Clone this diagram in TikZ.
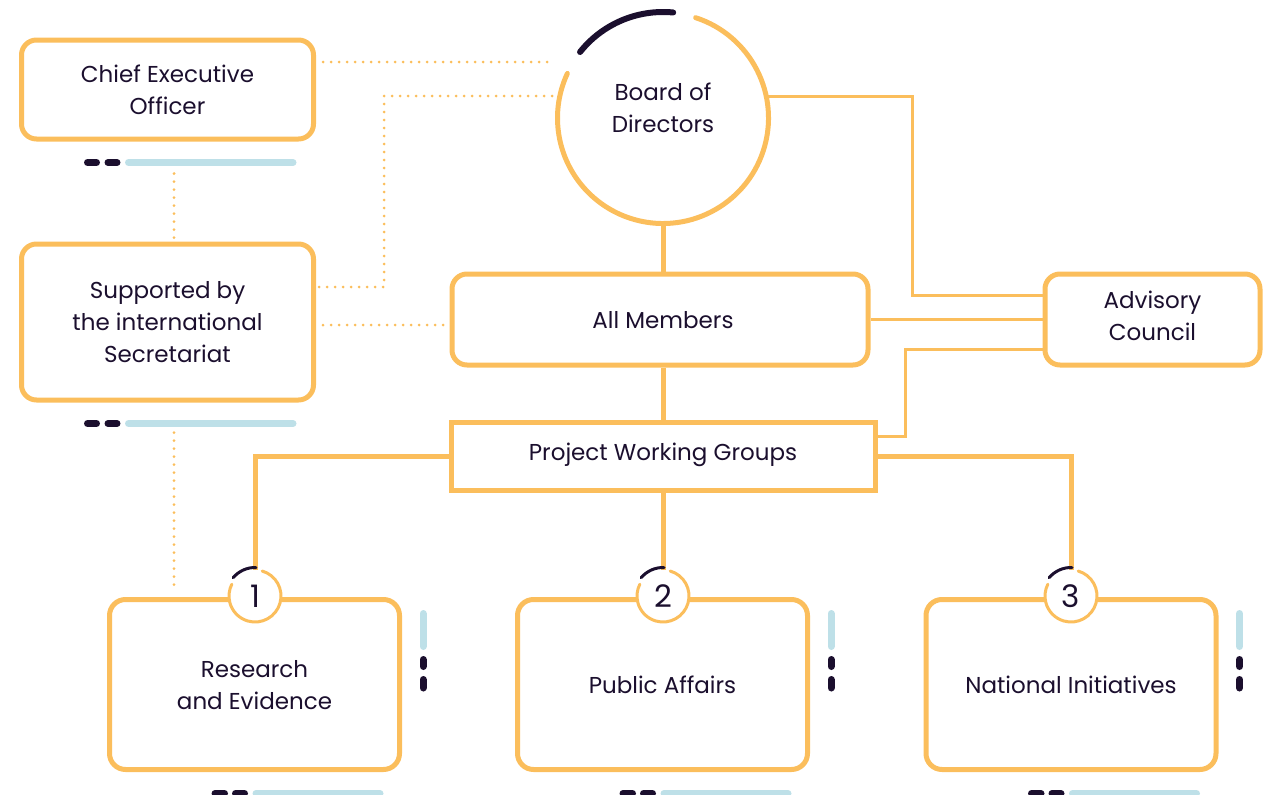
\documentclass[tikz,border=0pt]{standalone}
\usepackage{fontspec}
\setmainfont{Poppins}
\usetikzlibrary{calc}
\definecolor{org}{HTML}{FBBE5C}
\definecolor{ink}{HTML}{1B0F2E}
\definecolor{sky}{HTML}{BEE0E8}
\begin{document}
\begin{tikzpicture}[x=1pt,y=-1pt,
  box/.style={draw=org, line width=5pt, rounded corners=15pt, fill=white, align=center, text=ink, font=\fontsize{23}{32}\selectfont, inner sep=0pt, text depth=0pt},
  bigbox/.style={box, rounded corners=16pt, minimum width=290pt, minimum height=170pt},
  label/.style={align=center, text=ink, font=\fontsize{23}{32}\selectfont, inner sep=0pt, text depth=0pt},
  link/.style={draw=org, line width=5pt},
  thinlink/.style={draw=org, line width=3pt},
  dots/.style={draw=org, line width=3pt, line cap=round, dash pattern=on 0pt off 8pt},
  inkbar/.style={draw=ink, line width=7pt, line cap=round},
  skybar/.style={draw=sky, line width=7pt, line cap=round},
  numc/.style={circle, fill=white, minimum size=52pt, inner sep=0pt, text=ink, font=\fontsize{31}{31}\selectfont},
]
\useasboundingbox (0,0) rectangle (1270,795);

% boxes
\node[box, text depth=-4pt, minimum width=292pt, minimum height=99pt] (ceo) at (167.5,89.5) {Chief Executive\\Officer};
\node[box, text depth=-4pt, minimum width=292pt, minimum height=156pt] (sec) at (167.5,322) {Supported by\\the international\\Secretariat};
\node[circle, minimum size=211pt, inner sep=0pt] (board) at (663,118) {};
\node[label] (boardtxt) at ($(board.center)+(0,-10)$) {Board of\\Directors};
\node[box, text depth=-8pt, minimum width=416pt, minimum height=91pt] (all) at (660,319.5) {\hspace*{6pt}All Members};
\node[box, text depth=8pt, minimum width=215pt, minimum height=91pt] (adv) at (1152.5,319.5) {Advisory\\Council};
\node[box, text depth=8pt, sharp corners, minimum width=424pt, minimum height=68pt] (pwg) at (663,456) {Project Working Groups};
\node[bigbox] (res) at (254.5,684.5) {Research\\and Evidence};
\node[bigbox] (pub) at (662.5,684.5) {Public Affairs};
\node[bigbox] (nat) at (1071,684.5) {National Initiatives};

% number circles
\node[numc] (n1) at (255,596) {1};
\node[numc] (n2) at (663,596) {2};
\node[numc] (n3) at (1071,596) {3};

% board circle arcs
\draw[org, line width=5pt, line cap=round] (board.center) ++(72:105.5pt) arc[start angle=72, end angle=-205, radius=105.5pt];
\draw[ink, line width=6pt, line cap=round] (board.center) ++(84.5:106pt) arc[start angle=84.5, end angle=141.5, radius=106pt];

% main links
\draw[link] (board.south) -- (board.south |- all.north);
\draw[link] (pwg.north |- all.south) -- (pwg.north);
\draw[link] (pwg.south) -- (n2.north);
\draw[link] (pwg.west) -| (n1.north);
\draw[link] (pwg.east) -| (n3.north);

% advisory links
\draw[thinlink] (board.12) -| ($(adv.west)+(-130,-24.5)$) -- ($(adv.west)+(0,-24.5)$);
\draw[thinlink] (all.east) -- (all.east -| adv.west);
\draw[thinlink] ($(pwg.east)+(0,-20)$) -- ++(28,0) |- ($(adv.west)+(0,29.5)$);

% dotted links
\coordinate (d1) at (552,62);
\coordinate (d2) at (552,96);
\draw[dots] ($(ceo.east)+(7,-27.5)$) -- (d1);
\draw[dots] ($(sec.east)+(3,-35)$) -| ($(d2)+(-168,0)$) -- (d2);
\draw[dots] ($(sec.east)+(7,3)$) -- ($(all.west)+(0,5.5)$);
\draw[dots] ($(ceo.south)+(6.5,32)$) -- ($(sec.north)+(6.5,-4)$);
\draw[dots] ($(sec.south)+(6.5,30)$) -- ($(res.north)+(-80.5,-7)$);

% number circle arcs
\foreach \n in {n1,n2,n3}{
  \draw[org, line width=3pt, line cap=round] (\n.center) ++(74:26pt) arc[start angle=74, end angle=-207, radius=26pt];
  \draw[ink, line width=3pt, line cap=round] (\n.center) ++(140:28.5pt) arc[start angle=140, end angle=88, radius=28.5pt];
}

% bars under left boxes
\foreach \b in {ceo,sec}{
  \draw[inkbar] ($(\b.south west)+(68.5,21)$) -- ++(9,0);
  \draw[inkbar] ($(\b.south west)+(89,21)$) -- ++(9,0);
  \draw[skybar] ($(\b.south west)+(109.5,21)$) -- ++(164.5,0);
}
% bars by bottom boxes
\foreach \b in {res,pub,nat}{
  \draw[inkbar] ($(\b.south west)+(108,21.5)$) -- ++(9.5,0);
  \draw[inkbar] ($(\b.south west)+(128.5,21.5)$) -- ++(9,0);
  \draw[skybar] ($(\b.south west)+(149,21.5)$) -- ++(124,0);
  \draw[skybar] ($(\b.north east)+(21,16.5)$) -- ++(0,33);
  \draw[inkbar] ($(\b.north east)+(21,62.5)$) -- ++(0,7);
  \draw[inkbar] ($(\b.north east)+(21,82.5)$) -- ++(0,8.5);
}
\end{tikzpicture}
\end{document}
